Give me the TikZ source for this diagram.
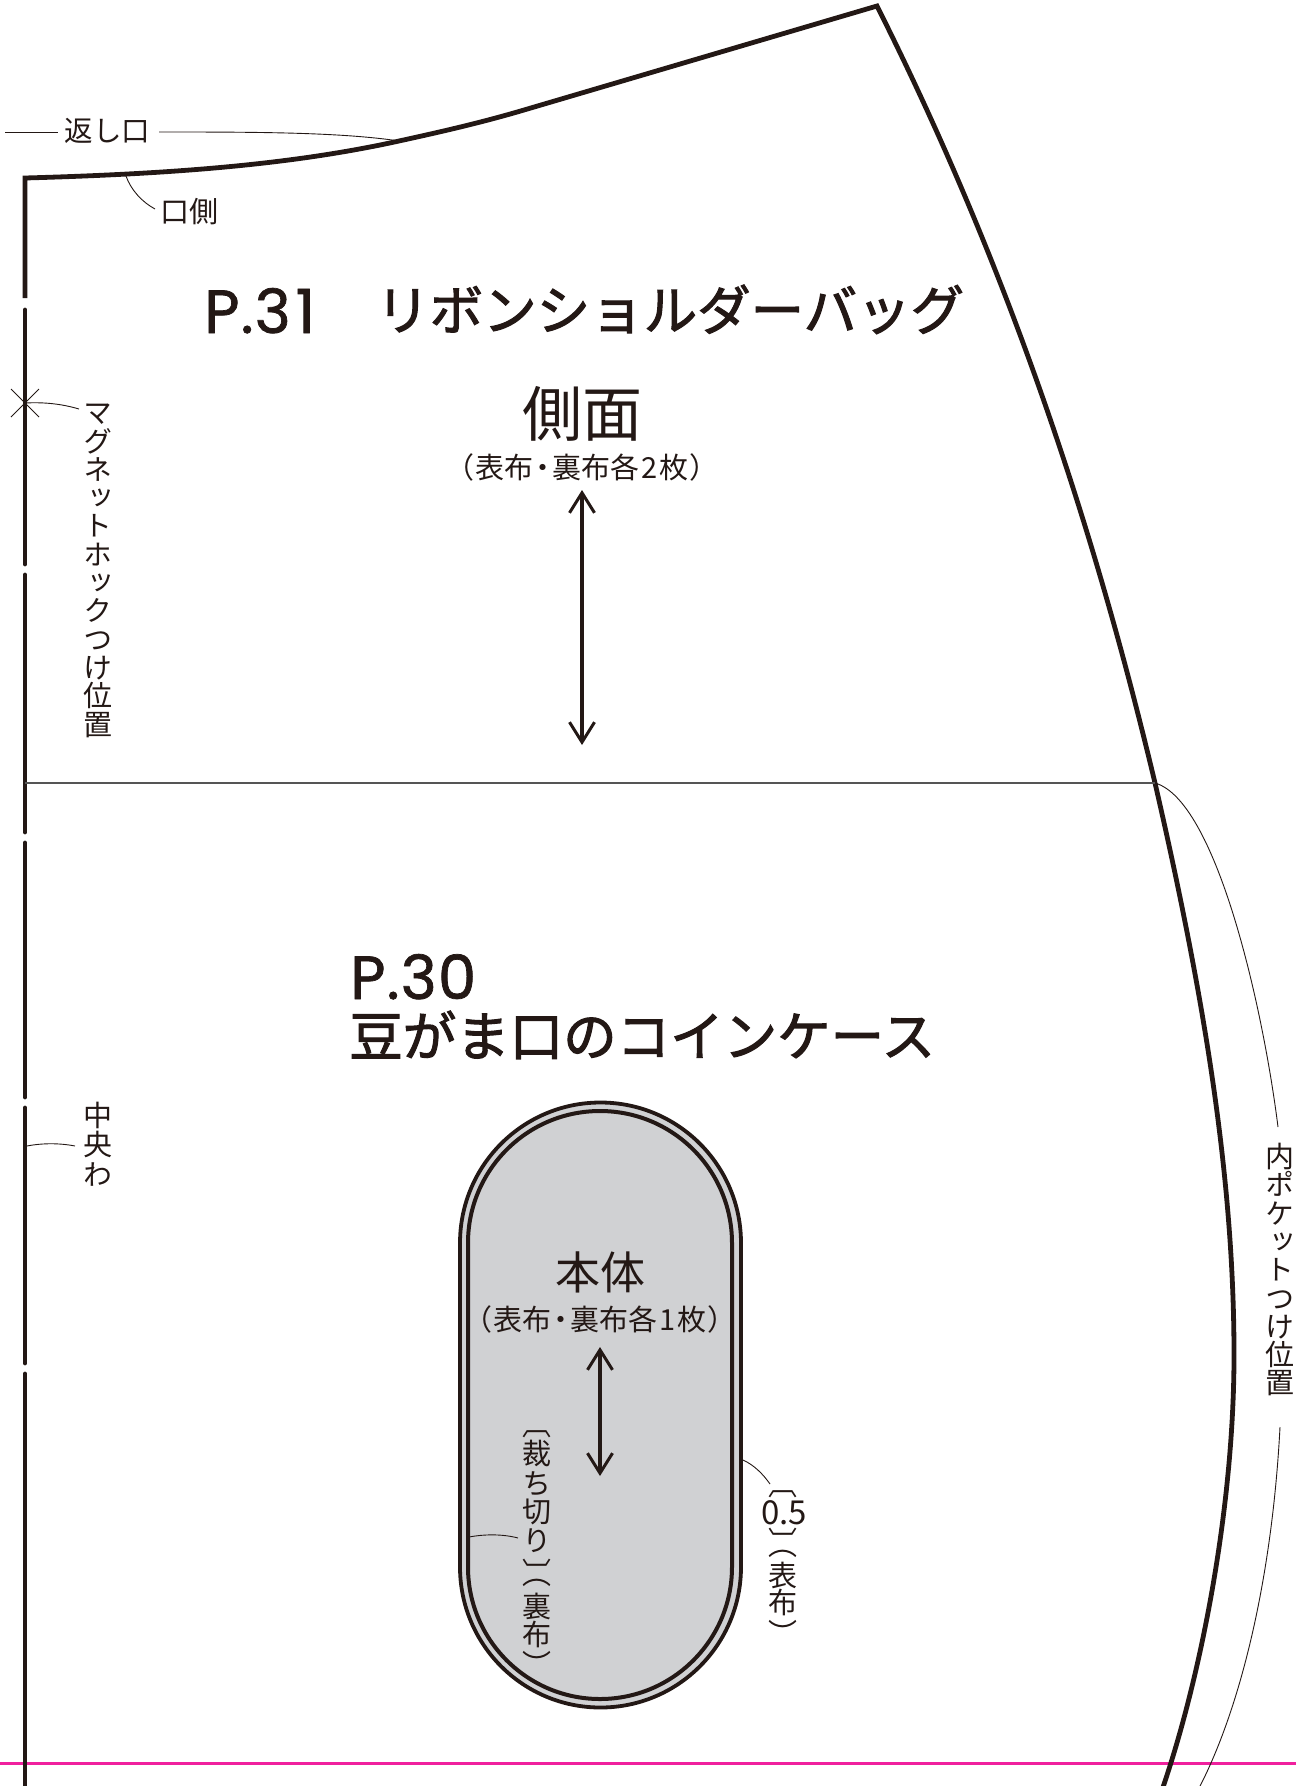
\documentclass[tikz,border=0pt]{standalone}
\usepackage{fontspec}
\usetikzlibrary{arrows.meta}
\newfontfamily\jpfont{Noto Sans CJK JP}
\newfontfamily\headfont[FakeBold=2]{Noto Sans CJK JP}
\newfontfamily\latinhead[FakeBold=1.2,LetterSpace=2]{Poppins}
\newfontfamily\vfont[RawFeature={+vert}]{Noto Sans CJK JP}
\definecolor{ink}{HTML}{231815}
\definecolor{fillgray}{HTML}{D0D1D3}
\definecolor{pinkline}{HTML}{F0209E}
\definecolor{midline}{HTML}{555555}
\lineskiplimit=-100pt
\newcommand{\dotk}{\kern-5pt・\kern-5pt}
\tikzset{
  x=1pt,y=-1pt,
  heavy/.style={draw=ink,line width=4.8pt,line cap=round},
  thin leader/.style={draw=ink,line width=0.9pt},
  grain/.style={draw=ink,line width=3.4pt,{Straight Barb[length=20pt,width=25pt,line width=3pt]}-{Straight Barb[length=20pt,width=25pt,line width=3pt]}},
  lab/.style={inner sep=0pt,text=ink,font=\jpfont\fontsize{29}{29}\selectfont},
  head/.style={inner sep=0pt,text=ink,anchor=base west,font=\headfont\fontsize{53.5}{53.5}\selectfont},
  latin/.style={inner sep=0pt,text=ink,anchor=base west,font=\latinhead\fontsize{61}{61}\selectfont},
  vlab/.style={inner sep=0pt,text=ink,align=center,anchor=north,font=\vfont\fontsize{29}{28.3}\selectfont},
}
\begin{document}
\begin{tikzpicture}
\useasboundingbox (0,0) rectangle (1296,1786);
% magenta line
\coordinate (mL) at (0,1763); \coordinate (mR) at (1296,1763);
\draw[pinkline,line width=3pt] (mL) -- (mR);
% outline
\coordinate (tl) at (25,178); \coordinate (ret) at (399,141);
\coordinate (top) at (877,6); \coordinate (pock) at (1155,783);
\coordinate (bot) at (1162,1790);
\draw[draw=ink,line width=4.8pt,line join=miter]
  (25,298) -- (tl) .. controls (170,174) and (290,165) .. (ret)
  .. controls (440,132) and (480,123) .. (524,110) -- (top)
  .. controls (1007,265) and (1093,523) .. (pock)
  .. controls (1205,1000) and (1234,1180) .. (1234,1355)
  .. controls (1234,1510) and (1200,1680) .. (bot);
% centre fold dashes
\draw[heavy] (25,310) -- (25,564);
\draw[heavy] (25,575) -- (25,832);
\draw[heavy] (25,843) -- (25,1097);
\draw[heavy] (25,1108) -- (25,1363);
\draw[heavy] (25,1374) -- (25,1790);
% pocket line
\coordinate (foldL) at (25,783);
\draw[draw=midline,line width=1.1pt] (foldL) -- (pock);
% magnet cross
\coordinate (mag) at (25,403);
\draw[thin leader] (11,389) -- (39,417) (11,417) -- (39,389);
% heading text
\node[latin] (p31) at (204,333) {P.3\kern5pt 1};
\node[head] (ribbon) at (376,330) {リボンショルダーバッグ};
\node[lab,font=\jpfont\fontsize{60}{60}\selectfont] (side) at (582,414) {側面};
\node[lab] (sidesub) at (582,467) {（\kern1pt 表布\dotk 裏布各\kern2pt 2\kern2pt 枚\kern1pt ）};
\coordinate (a1) at (582,490); \coordinate (a2) at (582,745);
\draw[grain] (a1) -- (a2);
\node[latin] (p30) at (350,999) {P.30};
\node[head] (coin) at (349,1056) {豆がま口のコインケース};
% body
\path[fill=fillgray,draw=ink,line width=3.8pt]
  (460,1243) arc[start angle=180,end angle=0,x radius=140.5,y radius=-140.5]
  -- (741,1567) arc[start angle=0,end angle=-180,x radius=140.5,y radius=-140.5] -- cycle;
\path[draw=ink,line width=4pt]
  (468,1243) arc[start angle=180,end angle=0,x radius=132,y radius=-132]
  -- (732,1567) arc[start angle=0,end angle=-180,x radius=132,y radius=-132] -- cycle;
\node[lab,font=\jpfont\fontsize{45}{45}\selectfont] (body) at (600,1272) {本体};
\node[lab] (bodysub) at (600,1319) {（\kern1pt 表布\dotk 裏布各\kern2pt 1\kern2pt 枚\kern1pt ）};
\coordinate (b1) at (600,1347); \coordinate (b2) at (600,1476);
\draw[grain] (b1) -- (b2);
% labels
\node[lab,font=\jpfont\fontsize{28.5}{28.5}\selectfont] (ret lab) at (107.5,131) {返し口};
\coordinate (rs) at (5,132); \coordinate (rm) at (58,132); \coordinate (rn) at (159,132);
\draw[thin leader] (rs) -- (rm);
\draw[thin leader] (rn) .. controls (250,132) and (340,132) .. (ret);
\node[lab] (mouth) at (189,212) {口側};
\coordinate (mc) at (126,176); \coordinate (mt) at (155,209);
\draw[thin leader] (mc) .. controls (131,190) and (142,202) .. (mt);
\node[vlab] (maglab) at (98,404) {マ\\グ\\ネ\\ッ\\ト\\ホ\\ッ\\ク\\つ\\け\\位\\置};
\coordinate (me) at (79,409);
\draw[thin leader] (mag) .. controls (45,402) and (62,404) .. (me);
\node[vlab] (center) at (98,1102) {中\\[1pt]央\\[1pt]わ};
\coordinate (ca) at (27,1146); \coordinate (cb) at (75,1146);
\draw[thin leader] (ca) .. controls (42,1143) and (60,1143) .. (cb);
\node[vlab] (pocklab) at (1280,1143) {内\\ポ\\ケ\\ッ\\ト\\つ\\け\\位\\置};
\coordinate (pa) at (1278,1127); \coordinate (pb) at (1280,1427); \coordinate (pc) at (1198,1790);
\draw[thin leader] (pock) .. controls (1215,800) and (1262,1000) .. (pa);
\draw[thin leader] (pb) .. controls (1272,1580) and (1240,1710) .. (pc);
% cut label
\node[vlab] (cut) at (537,1430) {〔\\[1.3pt]裁\\[1.7pt]ち\\切\\[0.7pt]り\\[3.3pt]〕\\[-27.3pt]（\\[4.3pt]裏\\布\\[2.1pt]）};
\coordinate (ia) at (469,1537); \coordinate (ib) at (518,1538);
\draw[thin leader] (ia) .. controls (485,1534) and (503,1534) .. (ib);
% seam label
\node[vlab] (seam) at (783,1490) {〔};
\node[lab,font=\jpfont\fontsize{33}{33}\selectfont] (half) at (784,1513) {0.5};
\node[vlab] (seamb) at (783,1528) {〕};
\node[vlab] (seamc) at (783,1550) {（\\[2.3pt]表\\[-1.3pt]布\\[3.1pt]）};
\coordinate (sa) at (743,1460); \coordinate (sb) at (770,1484);
\draw[thin leader] (sa) .. controls (754,1465) and (763,1474) .. (sb);
\end{tikzpicture}
\end{document}
